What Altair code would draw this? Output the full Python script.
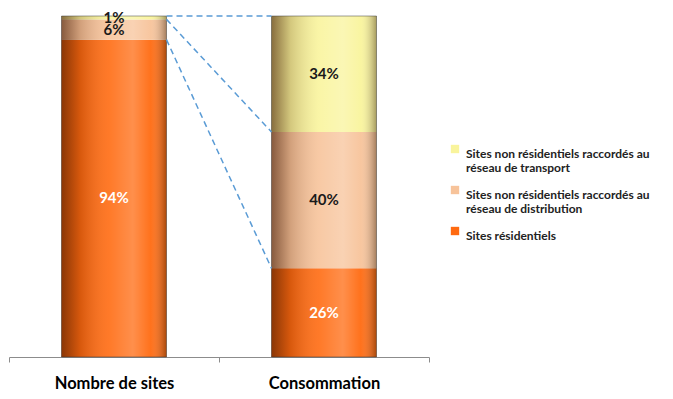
import altair as alt
import pandas as pd

categories = ["Nombre de sites", "Consommation"]
series = [
    "Sites résidentiels",
    "Sites non résidentiels raccordés au réseau de distribution",
    "Sites non résidentiels raccordés au réseau de transport",
]
sites_values = [94, 6, 1]
conso_values = [26, 40, 34]
value_labels = [["94%", "6%", "1%"], ["26%", "40%", "34%"]]
colors = ["#FF6A10", "#F7C39A", "#F9F49C"]

FONT = "Lato"

rows = []
for cat, vals, labs in zip(categories, [sites_values, conso_values], value_labels):
    total = sum(vals)
    cum = 0.0
    for s, v, lab in zip(series, vals, labs):
        y0 = cum / total
        cum += v
        y1 = cum / total
        rows.append({"cat": cat, "series": s, "y0": y0, "y1": y1,
                     "mid": (y0 + y1) / 2, "label": lab})
df = pd.DataFrame(rows)

# connectors: boundaries of left bar to boundaries of right bar
left = df[df.cat == categories[0]].reset_index(drop=True)
right = df[df.cat == categories[1]].reset_index(drop=True)
conn = pd.DataFrame({
    "from": [categories[0]] * 3,
    "to": [categories[1]] * 3,
    "ya": [left.y1[2], left.y1[1], left.y1[0]],
    "yb": [right.y1[2], right.y1[1], right.y1[0]],
})
totals = pd.DataFrame({"cat": categories, "y0": [0.0, 0.0], "y1": [1.0, 1.0]})

xscale = alt.Scale(domain=categories, paddingInner=0, paddingOuter=0)
yscale = alt.Scale(domain=[0, 1], nice=False)
xaxis = alt.Axis(title=None, labelAngle=0, labelFont=FONT, labelFontSize=16.5,
                 labelFontWeight="bold", labelColor="#000", labelPadding=13,
                 tickBand="extent", domainColor="#8c8c8c", tickColor="#8c8c8c",
                 tickSize=5, grid=False)

bars = alt.Chart(df).mark_bar(width=alt.RelativeBandSize(0.5)).encode(
    x=alt.X("cat:N", scale=xscale, axis=xaxis, title=None),
    y=alt.Y("y0:Q", scale=yscale, axis=None),
    y2="y1:Q",
    color=alt.Color(
        "series:N",
        scale=alt.Scale(domain=list(reversed(series)), range=list(reversed(colors))),
        legend=alt.Legend(
            title=None, orient="none", legendX=440, legendY=127,
            symbolType="square", symbolSize=70, symbolStrokeWidth=0,
            labelFont=FONT, labelFontSize=12, labelFontWeight="bold",
            labelColor="#222", labelLimit=300, rowPadding=10,
            labelBaseline="top", labelOffset=5,
            labelExpr="split(replace(datum.label, ' au ', ' au|'), '|')",
        ),
    ),
    order=alt.Order("y0:Q"),
)

shade = alt.Chart(totals).mark_bar(
    width=alt.RelativeBandSize(0.5),
    color=alt.Gradient(
        gradient="linear", x1=0, x2=1, y1=0, y2=0,
        stops=[
            alt.GradientStop(color="rgba(60,20,0,0.6)", offset=0),
            alt.GradientStop(color="rgba(60,20,0,0.2)", offset=0.18),
            alt.GradientStop(color="rgba(255,255,255,0.10)", offset=0.45),
            alt.GradientStop(color="rgba(255,255,255,0.25)", offset=0.68),
            alt.GradientStop(color="rgba(255,255,255,0.05)", offset=0.85),
            alt.GradientStop(color="rgba(40,20,0,0.4)", offset=1),
        ],
    ),
    stroke="#333", strokeWidth=0.8, strokeOpacity=0.6,
).encode(
    x=alt.X("cat:N", scale=xscale, axis=xaxis, title=None),
    y=alt.Y("y0:Q", scale=yscale, axis=None),
    y2="y1:Q",
)

texts = alt.Chart(df).mark_text(font=FONT, fontSize=15, fontWeight="bold").encode(
    x=alt.X("cat:N", scale=xscale, axis=xaxis, title=None),
    y=alt.Y("mid:Q", scale=yscale, axis=None),
    text="label:N",
    color=alt.condition(f"datum.series == '{series[0]}'", alt.value("white"), alt.value("#1a1a1a")),
)

links = alt.Chart(conn).mark_rule(color="#5A9BD5", strokeDash=[6, 4], strokeWidth=1.5).encode(
    x=alt.X("from:N", scale=xscale, bandPosition=0.75, axis=xaxis, title=None),
    x2=alt.X2("to:N", bandPosition=0.25),
    y=alt.Y("ya:Q", scale=yscale, axis=None),
    y2="yb:Q",
)

chart = alt.layer(bars, shade, links, texts).properties(
    width=420, height=341,
    padding={"left": 0, "top": 2, "right": 5, "bottom": 5},
).configure_view(stroke=None)

chart.save("out.html", embed_options={"renderer": "svg", "actions": False})
